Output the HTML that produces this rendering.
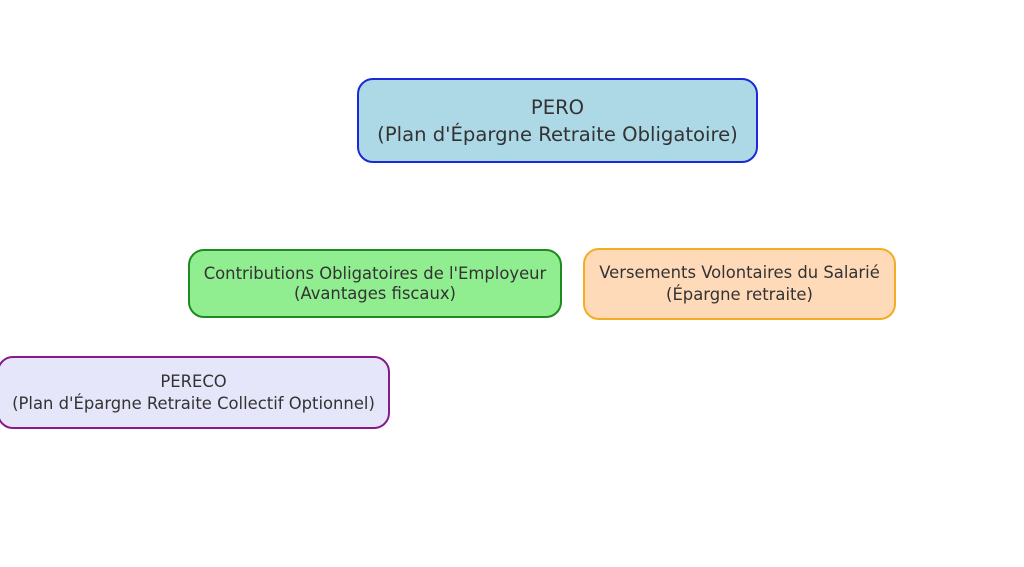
<!DOCTYPE html>
<html><head><style>
body{margin:0;width:1024px;height:567px;background:#fff;position:relative;overflow:hidden;font-family:"DejaVu Sans","Liberation Sans",sans-serif;color:#333}
.b{position:absolute;box-sizing:border-box;border-width:2px;border-style:solid;border-radius:16px;display:flex;align-items:center;justify-content:center;text-align:center}
</style></head><body>
<div class="b" style="left:357px;top:78px;width:401px;height:85px;background:#add8e6;border-color:#1c2ad6;font-size:19.6px;line-height:27px">PERO<br>(Plan d'Épargne Retraite Obligatoire)</div>
<div class="b" style="left:188px;top:249px;width:374px;height:69px;background:#90ee90;border-color:#1f8a1f;font-size:16.4px;line-height:20px">Contributions Obligatoires de l'Employeur<br>(Avantages fiscaux)</div>
<div class="b" style="left:583px;top:248px;width:313px;height:72px;background:#ffdab9;border-color:#f2ad22;font-size:16.4px;line-height:22px">Versements Volontaires du Salarié<br>(Épargne retraite)</div>
<div class="b" style="left:-3px;top:356px;width:393px;height:73px;background:#e6e6fa;border-color:#861a8a;font-size:16.4px;line-height:22px">PERECO<br>(Plan d'Épargne Retraite Collectif Optionnel)</div>
</body></html>
